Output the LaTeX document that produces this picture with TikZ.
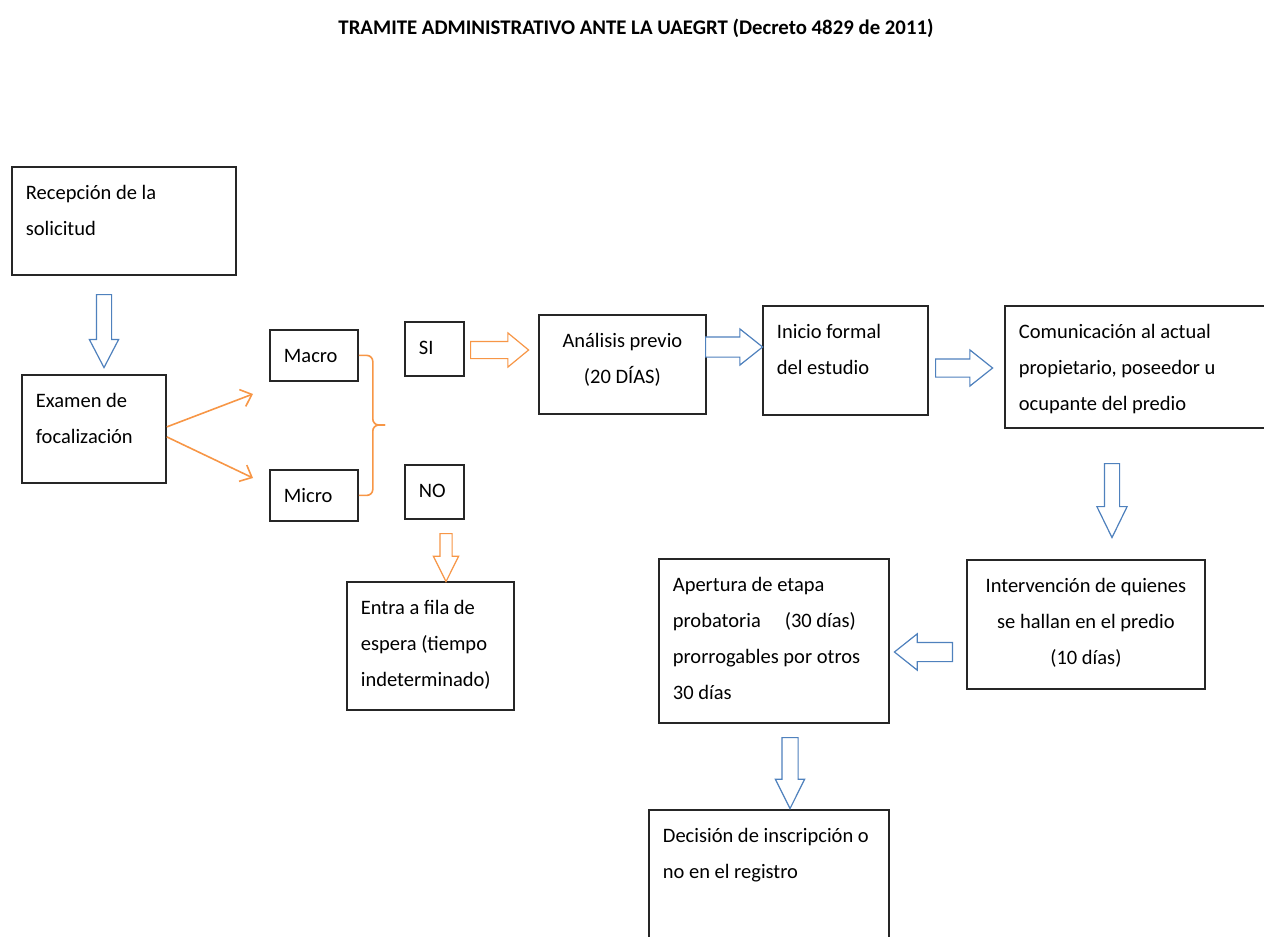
\documentclass[tikz,border=0pt]{standalone}
\usepackage{fontspec}
\setmainfont{Carlito}
\usetikzlibrary{positioning,arrows.meta,shapes.arrows}
\definecolor{ofblue}{HTML}{4F81BD}
\definecolor{oforange}{HTML}{F79646}
\newcommand{\boxtext}[3]{\parbox[t][#2][t]{#1}{\raggedright\strut #3}}
\newcommand{\boxtextc}[3]{\parbox[t][#2][t]{#1}{\centering\strut #3}}

\begin{document}
\begin{tikzpicture}[x=0.5pt,y=-0.5pt,
  font=\fontsize{10.25pt}{18pt}\selectfont,
  stepbox/.style={draw=black!85, line width=0.9pt, anchor=north west,
    inner xsep=7pt, inner ysep=3.5pt},
  barrow/.style n args={3}{single arrow, draw, fill=white, line width=0.6pt,
    inner sep=#1, single arrow head extend=#2, single arrow tip angle=#3,
    anchor=tail},
  orangeln/.style={oforange, line width=0.8pt, -{Straight Barb[length=5pt,width=9pt]}}]
\clip (0,0) rectangle (1264,937);
% titulo
\node[font=\fontsize{10.4pt}{18pt}\selectfont\bfseries] (title) at (636,28)
  {TRAMITE ADMINISTRATIVO ANTE LA UAEGRT (Decreto 4829 de 2011)};
% cajas
\node[stepbox] (recep) at (11,166) {\boxtext{98pt}{47pt}{Recepción de la\\ solicitud}};
\node[stepbox] (examen) at (21,374) {\boxtext{58pt}{47pt}{Examen de\\ focalización}};
\node[stepbox] (macro) at (269,329) {\boxtext{30pt}{18.5pt}{Macro}};
\node[stepbox] (micro) at (269,469) {\boxtext{30pt}{18.5pt}{Micro}};
\node[stepbox] (si) at (404,321) {\boxtext{15.5pt}{20pt}{SI}};
\node[stepbox] (no) at (404,464) {\boxtext{15.5pt}{20pt}{NO}};
\node[stepbox] (analisis) at (538,314) {\boxtextc{69.5pt}{42.5pt}{\mbox{Análisis previo}\\ (20 DÍAS)}};
\node[stepbox] (inicio) at (762,305) {\boxtext{68.5pt}{47.5pt}{Inicio formal\\ del estudio}};
\node[stepbox] (comunic) at (1004,305) {\boxtext{121pt}{54pt}{Comunicación al actual\\ propietario, poseedor u\\ ocupante del predio}};
\node[stepbox] (interv) at (966,559) {\boxtextc{105pt}{57.5pt}{\mbox{Intervención de quienes}\\ se hallan en el predio\\ (10 días)}};
\node[stepbox] (apertura) at (658,558) {\boxtext{101pt}{75pt}{Apertura de etapa\\ \mbox{probatoria\hspace{12pt}(30 días)}\\ \mbox{prorrogables por otros}\\ 30 días}};
\node[stepbox] (decision) at (648,809) {\boxtext{106pt}{63pt}{\mbox{Decisión de inscripción o}\\ no en el registro}};
\node[stepbox] (entra) at (346,581) {\boxtext{69.5pt}{57pt}{Entra a fila de\\ \mbox{espera (tiempo}\\ \mbox{indeterminado)}}};
% flechas de bloque
\node[barrow={3.5pt}{3.5pt}{55}, draw=ofblue, minimum height=36.5pt, rotate=-90] (a1) at (104,294) {};
\node[barrow={4pt}{4.25pt}{79}, draw=oforange, minimum height=29pt] (a2) at (470,350) {};
\node[barrow={4.75pt}{4pt}{77}, draw=ofblue, minimum height=28.5pt] (a3) at (705,347) {};
\node[barrow={4.25pt}{4.5pt}{77}, draw=ofblue, minimum height=28.5pt] (a4) at (935,368) {};
\node[barrow={3.5pt}{3.75pt}{52}, draw=ofblue, minimum height=37pt, rotate=-90] (a5) at (1112,463) {};
\node[barrow={4.5pt}{4.25pt}{77}, draw=ofblue, minimum height=29pt, rotate=180] (a6) at (953,652) {};
\node[barrow={3.75pt}{3.25pt}{53}, draw=ofblue, minimum height=35.5pt, rotate=-90] (a7) at (790,737) {};
\node[barrow={2.75pt}{3.25pt}{53}, draw=oforange, minimum height=24pt, rotate=-90] (a8) at (446,533) {};
% ramas macro / micro
\coordinate (toMacro) at (253,394);
\coordinate (toMicro) at (253,478);
\coordinate (bracetip) at (385,425);
\draw[orangeln] ([yshift=1pt]examen.east) -- (toMacro);
\draw[orangeln] ([yshift=-4pt]examen.east) -- (toMicro);
\draw[oforange, line width=0.8pt, rounded corners=3pt] (macro.east) -- ++(14,0) |- (bracetip);
\draw[oforange, line width=0.8pt, rounded corners=3pt] (micro.east) -- ++(14,0) |- (bracetip);
\end{tikzpicture}
\end{document}
